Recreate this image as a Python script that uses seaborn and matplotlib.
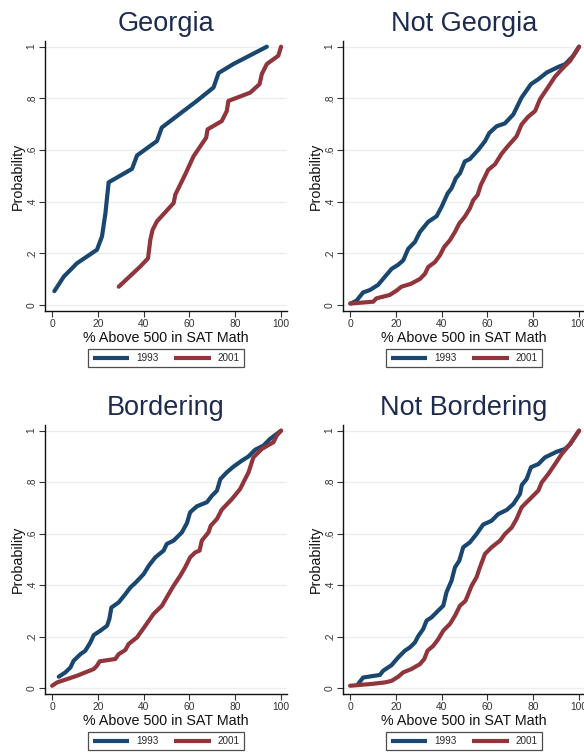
import matplotlib
matplotlib.use("Agg")
import matplotlib.pyplot as plt
import seaborn as sns
import pandas as pd

# ---------------- data ----------------
panel_titles = ["Georgia", "Not Georgia", "Bordering", "Not Bordering"]
years = ["1993", "2001"]
x_ticks = [0, 20, 40, 60, 80, 100]
y_ticks = [0, 0.2, 0.4, 0.6, 0.8, 1.0]
y_tick_labels = ["0", ".2", ".4", ".6", ".8", "1"]
x_label = "% Above 500 in SAT Math"
y_label = "Probability"

ga_1993_x = [1.0, 5.1, 10.9, 19.6, 21.8, 23.3, 24.7, 34.9, 37.1, 45.8, 47.9, 63.2, 70.5, 72.7, 79.2, 93.8]
ga_1993_y = [0.054, 0.11, 0.162, 0.214, 0.266, 0.356, 0.475, 0.527, 0.579, 0.635, 0.687, 0.79, 0.842, 0.898, 0.933, 1.0]
ga_2001_x = [29.1, 38.5, 41.9, 42.9, 43.9, 45.8, 53.1, 53.8, 58.1, 61.8, 67.3, 67.9, 74.1, 76.3, 77.0, 86.5, 90.6, 91.6, 93.8, 98.8, 100]
ga_2001_y = [0.071, 0.149, 0.181, 0.253, 0.291, 0.324, 0.395, 0.427, 0.505, 0.576, 0.648, 0.68, 0.712, 0.751, 0.79, 0.822, 0.855, 0.894, 0.933, 0.965, 1.0]

ng_1993_x = [0.3, 2.8, 5.7, 8.6, 12.2, 18.1, 21.0, 23.2, 25.4, 28.3, 30.5, 34.1, 37.8, 40.0, 42.6, 44.3, 46.2, 48.0, 50.1, 52.3, 56.0, 58.9, 60.8, 64.0, 67.6, 71.3, 74.9, 79.0, 82.2, 85.9, 91.0, 93.9, 97.5, 100]
ng_1993_y = [0.006, 0.017, 0.049, 0.058, 0.078, 0.14, 0.156, 0.173, 0.218, 0.244, 0.283, 0.322, 0.344, 0.381, 0.432, 0.452, 0.491, 0.51, 0.556, 0.565, 0.601, 0.634, 0.666, 0.692, 0.703, 0.738, 0.803, 0.855, 0.874, 0.9, 0.922, 0.932, 0.965, 1.0]
ng_2001_x = [0, 10.1, 11.5, 17.3, 20.3, 22.4, 26.5, 30.5, 32.7, 34.1, 37.0, 39.2, 41.1, 43.6, 45.8, 47.7, 50.1, 52.3, 53.8, 55.7, 57.1, 58.9, 60.3, 63.3, 66.2, 68.8, 72.7, 74.9, 77.8, 80.8, 82.9, 86.6, 89.5, 93.1, 96.1, 97.5, 100]
ng_2001_y = [0.006, 0.013, 0.026, 0.039, 0.056, 0.071, 0.082, 0.101, 0.121, 0.147, 0.166, 0.192, 0.225, 0.251, 0.283, 0.316, 0.342, 0.374, 0.406, 0.426, 0.465, 0.497, 0.523, 0.545, 0.586, 0.614, 0.653, 0.699, 0.729, 0.751, 0.796, 0.845, 0.884, 0.919, 0.945, 0.965, 1.0]

bo_1993_x = [2.9, 5.8, 8.0, 9.4, 12.4, 14.5, 16.7, 18.2, 21.1, 24.0, 25.0, 25.9, 29.1, 32.0, 34.2, 36.3, 40.0, 42.2, 45.1, 48.7, 50.1, 53.1, 56.7, 58.9, 60.3, 63.2, 67.6, 69.8, 72.0, 73.5, 76.3, 79.2, 82.8, 85.8, 88.7, 92.3, 95.2, 100]
bo_1993_y = [0.044, 0.061, 0.08, 0.106, 0.132, 0.145, 0.177, 0.206, 0.223, 0.242, 0.268, 0.313, 0.333, 0.365, 0.391, 0.408, 0.443, 0.475, 0.508, 0.534, 0.56, 0.573, 0.605, 0.641, 0.683, 0.706, 0.722, 0.747, 0.767, 0.812, 0.838, 0.86, 0.883, 0.9, 0.926, 0.942, 0.968, 1.0]
bo_2001_x = [0, 2.2, 10.9, 18.2, 19.6, 20.8, 27.6, 29.1, 32.0, 33.4, 37.1, 40.7, 44.3, 48.0, 50.9, 53.1, 56.0, 58.1, 60.3, 62.5, 64.4, 65.4, 68.3, 69.3, 72.0, 74.1, 78.5, 82.1, 84.3, 85.8, 87.9, 91.6, 94.5, 96.7, 98.1, 100]
bo_2001_y = [0.009, 0.022, 0.048, 0.074, 0.087, 0.104, 0.113, 0.132, 0.148, 0.171, 0.197, 0.242, 0.288, 0.32, 0.365, 0.398, 0.437, 0.469, 0.508, 0.527, 0.534, 0.573, 0.605, 0.631, 0.657, 0.693, 0.734, 0.773, 0.812, 0.838, 0.896, 0.929, 0.944, 0.955, 0.981, 1.0]

nb_1993_x = [3.5, 5.7, 13.0, 14.4, 18.1, 21.0, 23.9, 26.1, 28.3, 29.7, 31.9, 33.4, 35.6, 38.5, 40.7, 42.1, 44.3, 45.8, 47.7, 49.4, 52.3, 55.2, 58.1, 61.8, 64.7, 68.4, 71.3, 74.2, 75.0, 77.1, 79.0, 82.2, 85.1, 90.2, 93.9, 96.1, 100]
nb_1993_y = [0.016, 0.041, 0.051, 0.067, 0.089, 0.119, 0.145, 0.158, 0.177, 0.201, 0.229, 0.262, 0.275, 0.301, 0.32, 0.372, 0.417, 0.469, 0.495, 0.547, 0.566, 0.598, 0.635, 0.65, 0.676, 0.692, 0.715, 0.754, 0.789, 0.812, 0.858, 0.87, 0.896, 0.918, 0.929, 0.948, 1.0]
nb_2001_x = [0, 9.3, 15.2, 18.1, 21.0, 23.2, 26.8, 30.5, 32.4, 33.8, 36.3, 38.5, 40.7, 43.6, 45.8, 48.0, 50.4, 53.1, 55.2, 56.7, 58.9, 61.8, 65.5, 67.6, 70.6, 72.7, 74.9, 77.8, 82.2, 83.7, 86.6, 89.5, 92.4, 96.1, 100]
nb_2001_y = [0.009, 0.016, 0.022, 0.028, 0.044, 0.061, 0.074, 0.093, 0.113, 0.145, 0.164, 0.19, 0.223, 0.249, 0.281, 0.32, 0.339, 0.398, 0.43, 0.469, 0.521, 0.547, 0.573, 0.598, 0.624, 0.657, 0.702, 0.728, 0.767, 0.799, 0.832, 0.87, 0.909, 0.948, 1.0]

series = [
    (ga_1993_x, ga_1993_y, ga_2001_x, ga_2001_y),
    (ng_1993_x, ng_1993_y, ng_2001_x, ng_2001_y),
    (bo_1993_x, bo_1993_y, bo_2001_x, bo_2001_y),
    (nb_1993_x, nb_1993_y, nb_2001_x, nb_2001_y),
]

# ---------------- style ----------------
sns.set_theme(style="white")
plt.rcParams["font.family"] = ["Liberation Sans", "DejaVu Sans"]
palette = {"1993": "#1a476f", "2001": "#90353b"}
title_color = "#1c2b4f"
grid_color = "#eaeeee"

W, H = 584, 753
fig = plt.figure(figsize=(W / 100, H / 100), dpi=100)
fig.patch.set_facecolor("white")

# axes boxes in pixels: (left, top, width, height)
boxes = [(45, 41, 242, 270), (343, 41, 242, 270),
         (45, 425, 242, 269), (343, 425, 242, 269)]
title_y = [31, 31, 415, 415]
legend_y = [358, 358, 741, 741]

for i, (left, top, w, h) in enumerate(boxes):
    ax = fig.add_axes([left / W, 1 - (top + h) / H, w / W, h / H])
    x93, y93, x01, y01 = series[i]
    df = pd.DataFrame({
        "x": list(x93) + list(x01),
        "y": list(y93) + list(y01),
        "year": [years[0]] * len(x93) + [years[1]] * len(x01),
    })
    sns.lineplot(data=df, x="x", y="y", hue="year", palette=palette,
                 estimator=None, sort=False, linewidth=3.0, ax=ax,
                 solid_capstyle="round", solid_joinstyle="round")
    ax.set_xlim(-3.1, 102.6)
    ax.set_ylim(-0.023, 1.022)
    ax.set_xticks(x_ticks)
    ax.set_xticklabels([str(t) for t in x_ticks], fontsize=7.4)
    ax.set_yticks(y_ticks)
    ax.set_yticklabels(y_tick_labels, fontsize=7.4, rotation=90, va="center")
    ax.yaxis.grid(True, color=grid_color, linewidth=0.9)
    ax.xaxis.grid(False)
    ax.set_axisbelow(True)
    for s in ["top", "right"]:
        ax.spines[s].set_visible(False)
    for s in ["left", "bottom"]:
        ax.spines[s].set_color("#111111")
        ax.spines[s].set_linewidth(1.0)
    ax.tick_params(axis="both", which="major", direction="out", length=4,
                   width=0.8, color="#333333", pad=2, labelcolor="#333333",
                   left=True, bottom=True)
    ax.set_xlabel(x_label, fontsize=10.3, color="#111111", labelpad=1)
    ax.set_ylabel(y_label, fontsize=10.3, color="#111111", labelpad=1)
    # title
    fig.text((left + w / 2) / W, 1 - title_y[i] / H, panel_titles[i],
             ha="center", va="baseline", fontsize=19.5, color=title_color)
    # legend
    handles, labels = ax.get_legend_handles_labels()
    leg = ax.legend(handles, labels, loc="center", ncol=2,
                    bbox_to_anchor=((left + w / 2) / W, 1 - legend_y[i] / H),
                    bbox_transform=fig.transFigure, fontsize=7.1,
                    frameon=True, fancybox=False, handlelength=3.7,
                    handletextpad=0.7, columnspacing=1.6, borderpad=0.45,
                    borderaxespad=0)
    leg.get_frame().set_edgecolor("#222222")
    leg.get_frame().set_linewidth(0.9)
    for line in leg.get_lines():
        line.set_linewidth(3.0)
        line.set_solid_capstyle("butt")

fig.savefig("out.png", dpi=100)
